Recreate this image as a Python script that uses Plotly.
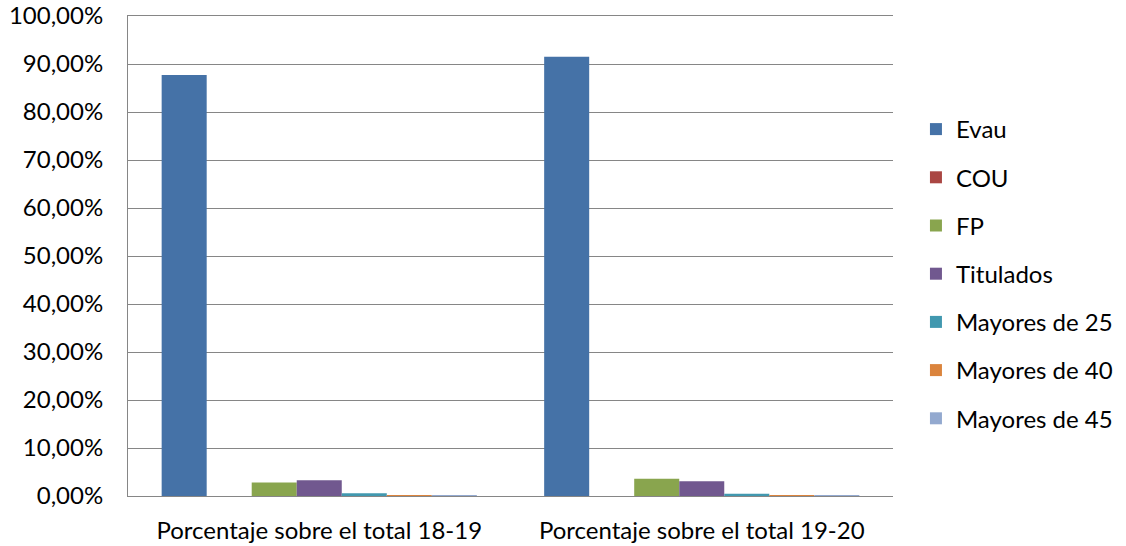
import plotly.graph_objects as go

categories = ["Porcentaje sobre el total 18-19", "Porcentaje sobre el total 19-20"]
series_names = ["Evau", "COU", "FP", "Titulados", "Mayores de 25", "Mayores de 40", "Mayores de 45"]
evau = [87.7, 91.5]
cou = [0.0, 0.0]
fp = [2.8, 3.6]
titulados = [3.3, 3.05]
mayores25 = [0.55, 0.45]
mayores40 = [0.1, 0.1]
mayores45 = [0.02, 0.02]
series_values = [evau, cou, fp, titulados, mayores25, mayores40, mayores45]
colors = ["#4572A7", "#AA4643", "#89A54E", "#71588F", "#4198AF", "#DB843D", "#93A9CF"]
y_ticks = [0, 10, 20, 30, 40, 50, 60, 70, 80, 90, 100]
y_tick_labels = ["0,00%", "10,00%", "20,00%", "30,00%", "40,00%", "50,00%",
                 "60,00%", "70,00%", "80,00%", "90,00%", "100,00%"]

FONT = "Lato"
FS = 24

fig = go.Figure()
for i, (name, vals, col) in enumerate(zip(series_names, series_values, colors)):
    fig.add_trace(go.Bar(
        x=categories, y=vals, name=name, marker_color=col,
        marker_line_width=0, legendgroup=f"g{i}",
    ))

fig.update_layout(
    width=1126, height=546,
    margin=dict(l=128, r=233, t=16, b=50, autoexpand=False),
    paper_bgcolor="white", plot_bgcolor="white",
    barmode="group", bargap=0.176, bargroupgap=0,
    font=dict(family=FONT, size=FS, color="#000000"),
    legend=dict(
        x=1.030, y=0.4625, xanchor="left", yanchor="middle",
        font=dict(family=FONT, size=FS, color="#000000"),
        traceorder="grouped", tracegroupgap=14,
        itemclick=False,
    ),
    showlegend=True,
)
fig.update_yaxes(
    range=[0, 100], tickvals=y_ticks, ticktext=y_tick_labels,
    showgrid=True, gridcolor="#868686", gridwidth=1,
    showline=True, linecolor="#868686", linewidth=1,
    zeroline=False, ticks="", ticklabelstandoff=19, automargin=False,
    ticklabeloverflow="allow",
    tickfont=dict(family=FONT, size=FS),
)
fig.update_xaxes(
    showline=True, mirror=True, linecolor="#868686", linewidth=1,
    showgrid=False, ticks="", ticklabelstandoff=13, automargin=False,
    ticklabeloverflow="allow",
    tickfont=dict(family=FONT, size=FS),
)

# remove the default 8px page margin so the figure fills the window exactly
fig.write_html("out.html", config={"displayModeBar": False},
               post_script="document.body.style.margin='0';")
